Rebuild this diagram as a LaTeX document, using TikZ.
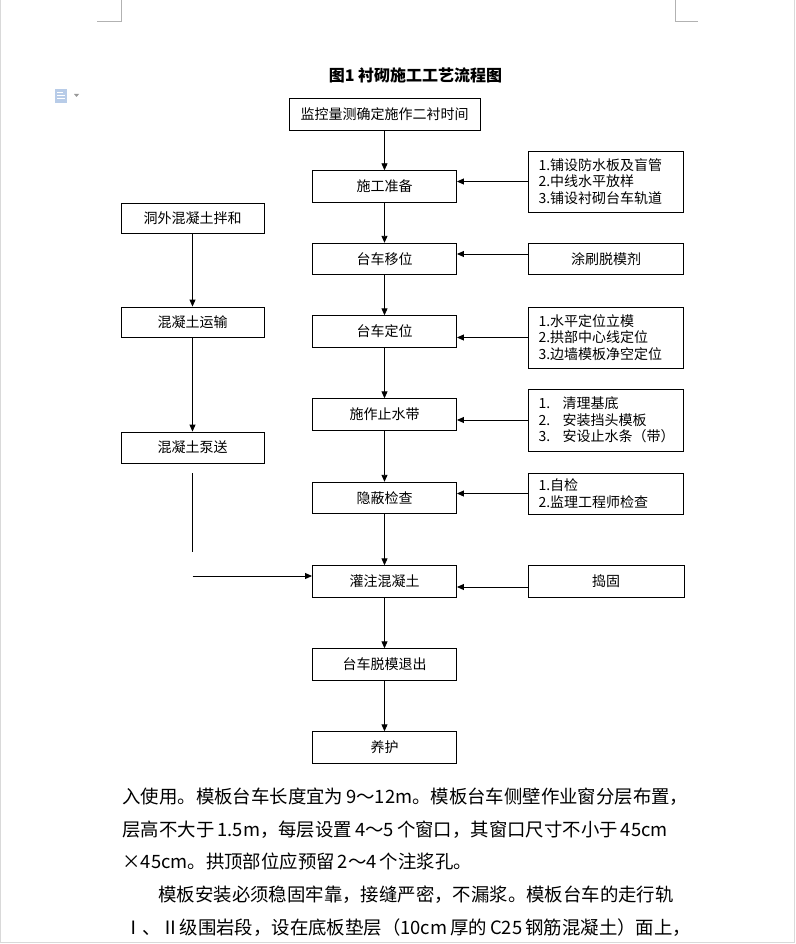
\documentclass[tikz,border=0pt]{standalone}
\usepackage{fontspec}
\newfontfamily\cjk{Noto Sans CJK SC}
\usepackage{tikz}
\usetikzlibrary{arrows.meta}
\usetikzlibrary{positioning}
\definecolor{iconblue}{RGB}{184,204,232}

\begin{document}
\begin{tikzpicture}[x=1pt, y=-1pt, on grid, line width=0.9pt,
	box/.style = {draw, minimum width=144pt, minimum height=31.5pt, inner sep=0pt, font=\cjk\fontsize{14}{16.5}\selectfont},
	side/.style = {box, minimum width=155pt, text width=135pt, inner xsep=10pt, align=left},
	arr/.style = {-{Triangle[length=7pt,width=6pt]}},
	body/.style = {anchor=west, inner sep=0pt, font=\cjk\fontsize{18.4}{20}\selectfont}]
	\useasboundingbox (0,0) rectangle (795,944);
	% page edges and marks
	\draw[black!15, line width=1pt] (0.5,0) -- (0.5,942.5) -- (794,942.5) -- (794,0);
	\draw[black!30, line width=0.8pt] (97,21) -- (121,21) -- (121,0);
	\draw[black!30, line width=0.8pt] (698,21) -- (675,21) -- (675,0);
	\fill[iconblue] (55,89) rectangle (67,103);
	\draw[white, line width=1pt] (57,93) -- (63,93) (57,96) -- (65,96) (57,99) -- (65,99);
	\fill[black!40] (74,94) -- (79,94) -- (76.5,97) -- cycle;
	% title
	\node[font=\cjk\bfseries\fontsize{16}{18}\selectfont] (title) at (415.5,75) {图1 衬砌施工工艺流程图};
	% main column
	\node[box, minimum width=191pt, minimum height=32pt] (top) at (384.5,114) {监控量测确定施作二衬时间};
	\node[box] (prep) [below = 72.5pt of top] {施工准备};
	\node[box] (move) [below = 72.5pt of prep] {台车移位};
	\node[box] (fix) [below = 72.5pt of move] {台车定位};
	\node[box] (seal) [below = 83pt of fix] {施作止水带};
	\node[box] (check) [below = 83.5pt of seal] {隐蔽检查};
	\node[box] (pour) [below = 83.5pt of check] {灌注混凝土};
	\node[box] (strip) [below = 83pt of pour] {台车脱模退出};
	\node[box] (cure) [below = 83pt of strip] {养护};
	% right column
	\node[side, minimum height=61pt] (prepin) [right = 221.5pt of prep, yshift=5pt] {1.铺设防水板及盲管\\2.中线水平放样\\3.铺设衬砌台车轨道};
	\node[box, minimum width=155pt] (oil) [right = 221.5pt of move] {涂刷脱模剂};
	\node[side, minimum height=61pt] (fixin) [right = 221.5pt of fix, yshift=-6pt] {1.水平定位立模\\2.拱部中心线定位\\3.边墙模板净空定位};
	\node[side, minimum height=62pt] (sealin) [right = 221.5pt of seal, yshift=-5.5pt] {\makebox[24pt][l]{1.}清理基底\\\makebox[24pt][l]{2.}安装挡头模板\\\makebox[24pt][l]{3.}安设止水条（带）};
	\node[side, minimum height=41pt] (checkin) [right = 221.5pt of check, yshift=4.5pt] {1.自检\\2.监理工程师检查};
	\node[box, minimum width=156pt] (tamp) [right = 221.5pt of pour] {捣固};
	% left column
	\node[box, minimum width=143pt, minimum height=30pt] (mix) at (192.5,218) {洞外混凝土拌和};
	\node[box, minimum width=143pt, minimum height=30pt] (haul) [below = 104pt of mix] {混凝土运输};
	\node[box, minimum width=143pt, minimum height=31pt] (pump) [below = 125.5pt of haul] {混凝土泵送};
	\coordinate[below = 25.5pt of pump] (p1);
	\coordinate[below = 104.5pt of pump] (p2);
	\coordinate[below = 128.5pt of pump] (p3);
	% arrows
	\draw[arr] (top) -- (prep);
	\draw[arr] (prep) -- (move);
	\draw[arr] (move) -- (fix);
	\draw[arr] (fix) -- (seal);
	\draw[arr] (seal) -- (check);
	\draw[arr] (check) -- (pour);
	\draw[arr] (pour) -- (strip);
	\draw[arr] (strip) -- (cure);
	\draw[arr] (prepin.west) -- (prepin.west -| prep.east);
	\draw[arr] ([yshift=5pt]oil.west) -- ([yshift=5pt]oil.west -| move.east);
	\draw[arr] (fixin.west) -- (fixin.west -| fix.east);
	\draw[arr] (sealin.west) -- (sealin.west -| seal.east);
	\draw[arr] (checkin.west) -- (checkin.west -| check.east);
	\draw[arr] ([yshift=-5.5pt]tamp.west) -- ([yshift=-5.5pt]tamp.west -| pour.east);
	\draw[arr] (mix) -- (haul);
	\draw[arr] (haul) -- (pump);
	\draw (p1) -- (p2);
	\draw[arr] (p3) -- (p3 -| pour.west);
	% text below
	\node[body] (l1) at (122,797) {入使用。模板台车长度宜为\,9～12m。模板台车侧壁作业窗分层布置，};
	\node[body] (l2) at (122,830) {层高不大于\,1.5m，每层设置\,4～5\,个窗口，其窗口尺寸不小于\,45cm};
	\node[body] (l3) at (122,861) {×45cm。拱顶部位应预留\,2～4\,个注浆孔。};
	\node[body] (l4) at (158,895) {模板安装必须稳固牢靠，接缝严密，不漏浆。模板台车的走行轨};
	\node[body] (l5) at (124,928) {Ⅰ、Ⅱ级围岩段，设在底板垫层（10cm\,厚的\,C25\,钢筋混凝土）面上，};
\end{tikzpicture}
\end{document}
